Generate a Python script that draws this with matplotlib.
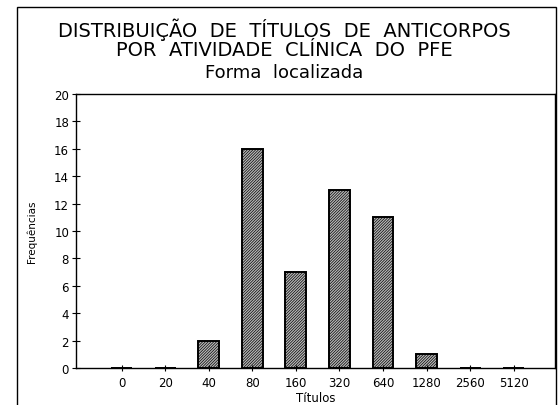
import matplotlib
matplotlib.use("Agg")
from matplotlib import pyplot as plt
from matplotlib.patches import Rectangle

# data
titulos = ["0", "20", "40", "80", "160", "320", "640", "1280", "2560", "5120"]
frequencias = [0, 0, 2, 16, 7, 13, 11, 1, 0, 0]
y_ticks = list(range(0, 21, 2))

plt.rcParams['font.family'] = ['DejaVu Sans']
plt.rcParams['hatch.linewidth'] = 0.5
plt.rcParams['hatch.color'] = '#303030'

fig = plt.figure(figsize=(5.58, 4.06), dpi=100)

# outer frame of the scanned page
fig.patches.append(Rectangle((17 / 558, -0.01), (556 - 17) / 558, 1 - 8 / 406 + 0.01,
                             transform=fig.transFigure, fill=False,
                             edgecolor="black", linewidth=1.0))

ax = fig.add_axes([76 / 558, 1 - 369 / 406, (555 - 76) / 558, (369 - 95) / 406])

x = list(range(len(titulos)))
ax.bar(x, frequencias, width=0.48, color="#b8b8b8", edgecolor="black",
       linewidth=1.4, hatch="////////////")

ax.set_xlim(-1.05, 9.95)
ax.set_ylim(0, 20)
ax.set_xticks(x)
ax.set_xticklabels(titulos, fontsize=8.5)
ax.set_yticks(y_ticks)
ax.set_yticklabels([str(v) for v in y_ticks], fontsize=8.5)
ax.tick_params(axis="y", direction="inout", length=6, width=0.8, pad=2)
ax.tick_params(axis="x", direction="inout", length=4, width=0.8, pad=4)
for s in ax.spines.values():
    s.set_linewidth(1.0)

ax.set_ylabel("Frequências", fontsize=7.5, labelpad=12)
ax.set_xlabel("Títulos", fontsize=8.5, labelpad=1)

fig.text(0.51, 1 - 30 / 406, "DISTRIBUIÇÃO  DE  TÍTULOS  DE  ANTICORPOS",
         ha="center", va="center", fontsize=14)
fig.text(0.51, 1 - 51 / 406, "POR  ATIVIDADE  CLÍNICA  DO  PFE",
         ha="center", va="center", fontsize=14)
fig.text(0.51, 1 - 73 / 406, "Forma  localizada",
         ha="center", va="center", fontsize=13)

fig.savefig("out.png", dpi=100)
